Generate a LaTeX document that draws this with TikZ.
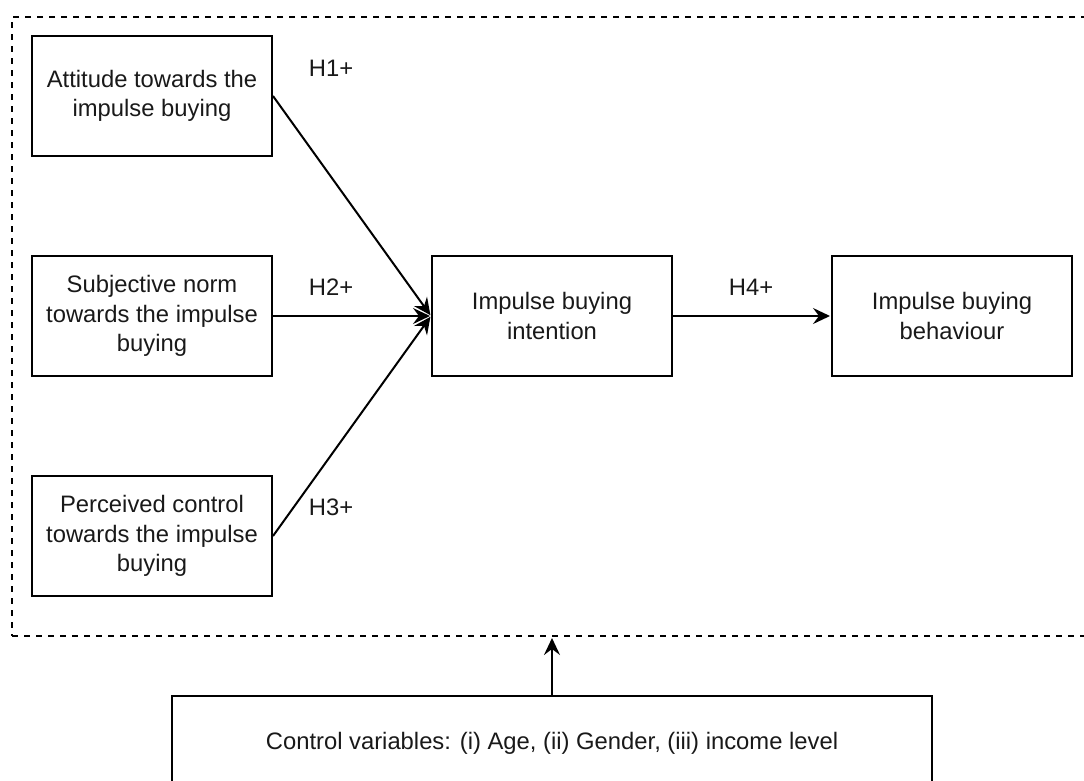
\documentclass[tikz,border=0pt]{standalone}
\usepackage{fontspec}
\setmainfont{Liberation Sans}
\usetikzlibrary{arrows.meta}

\begin{document}
\begin{tikzpicture}[auto,node distance=220pt,line width=2pt]
  \tikzstyle{every node}=[font=\fontsize{23.8}{29.5}\selectfont,text=black!90]
  \tikzstyle{factor}=[draw=black,rectangle,minimum width=240pt,minimum height=120pt,align=center,inner sep=0pt]
  \tikzstyle{link}=[draw=black,-{Stealth[length=17pt,width=16pt,inset=6pt]},shorten >=1pt]

  \useasboundingbox (0,0) rectangle (1084pt,-780pt);
  \clip (0,0) rectangle (1084pt,-780pt);

  \node[draw=black,dash pattern=on 6pt off 6pt,minimum width=1080pt,minimum height=619pt,inner sep=0pt] (frame) at (552pt,-326.5pt) {};

  \node[factor] (A) at (152pt,-96pt) {Attitude towards the\\impulse buying};
  \node[factor] (B) [below of=A] {Subjective norm\\towards the impulse\\buying};
  \node[factor] (C) [below of=B] {Perceived control\\towards the impulse\\buying};
  \node[factor] (I) [right of=B,node distance=400pt] {Impulse buying\\intention};
  \node[factor] (E) [right of=I,node distance=400pt] {Impulse buying\\behaviour};
  \node[factor,minimum width=760pt,minimum height=94pt] (ctrl) at (552pt,-743pt) {Control variables: (i) Age, (ii) Gender, (iii) income level};

  \node (h1) at (331pt,-68pt) {H1+};
  \node (h2) at (331pt,-287pt) {H2+};
  \node (h3) at (331pt,-507pt) {H3+};
  \node (h4) at (751pt,-287pt) {H4+};

  \path (A.east) edge[link] (I.west)
	(B) edge[link] (I)
	(C.east) edge[link] (I.west)
	(I) edge[link] (E)
	(ctrl) edge[link] (frame);
\end{tikzpicture}
\end{document}
